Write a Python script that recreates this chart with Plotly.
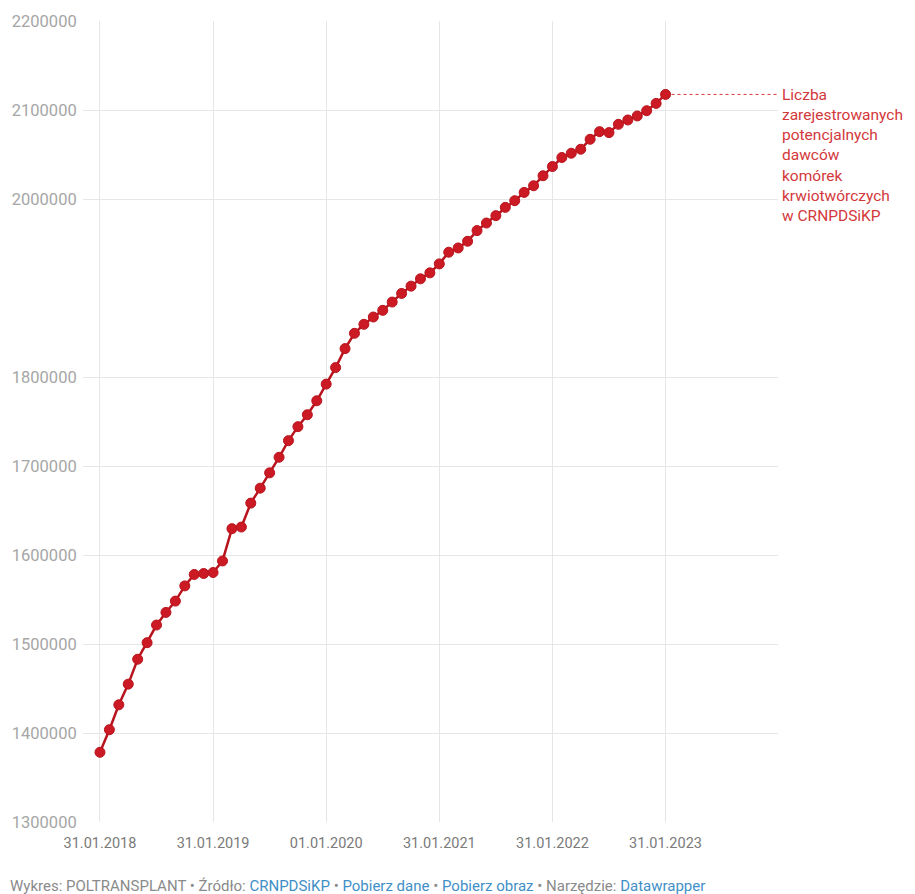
import plotly.graph_objects as go

# Registered potential haematopoietic stem cell donors, monthly (end of month)
donors = [
    1378300, 1403700, 1431700, 1454900, 1482900, 1501500, 1521300, 1535500,
    1548200, 1565300, 1578100, 1579200, 1580300, 1593300, 1629600, 1631400,
    1658300, 1675100, 1692300, 1709800, 1728500, 1744200, 1757600, 1773300,
    1792000, 1810600, 1831900, 1849100, 1859200, 1867400, 1874900, 1884200,
    1893900, 1902100, 1910300, 1917000, 1927100, 1940200, 1945000, 1952500,
    1964500, 1973000, 1981300, 1990600, 1998100, 2007400, 2014900, 2026100,
    2036500, 2046600, 2051400, 2055900, 2067100, 2075700, 2074600, 2083900,
    2088800, 2093300, 2099200, 2107400, 2117500,
]
month_index = list(range(len(donors)))

x_tick_pos = [0, 12, 24, 36, 48, 60]
x_tick_labels = ["31.01.2018", "31.01.2019", "01.01.2020",
                 "31.01.2021", "31.01.2022", "31.01.2023"]
y_ticks = [1300000, 1400000, 1500000, 1600000, 1700000, 1800000,
           2000000, 2100000, 2200000]

series_label = ("Liczba<br>zarejestrowanych<br>potencjalnych<br>dawców<br>"
                "komórek<br>krwiotwórczych<br>w CRNPDSiKP")

RED = "#cc1a24"
LABEL_RED = "#d3383b"
GRID = "#e6e6e6"

fig = go.Figure()
fig.add_trace(go.Scatter(
    x=month_index, y=donors,
    mode="lines+markers",
    line=dict(color="#b8141d", width=2.5),
    marker=dict(color=RED, size=10, line=dict(color="#b8141d", width=1)),
    hoverinfo="skip",
    showlegend=False,
))

# dotted leader from the last point to the series label
fig.add_shape(type="line", xref="x", yref="y",
              x0=month_index[-1], x1=71.8, y0=donors[-1], y1=donors[-1],
              line=dict(color=LABEL_RED, width=1, dash="dot"), layer="below")

fig.add_annotation(xref="paper", yref="y", x=1.003, y=donors[-1],
                   xanchor="left", yanchor="top", yshift=10,
                   text=series_label, showarrow=False, align="left",
                   font=dict(family="Roboto", size=15.5, color=LABEL_RED))

link = "color:#3f8fc7"
footer = ("Wykres: POLTRANSPLANT • Źródło: "
          f"<span style='{link}'>CRNPDSiKP</span> • "
          f"<span style='{link}'>Pobierz dane</span> • "
          f"<span style='{link}'>Pobierz obraz</span> • Narzędzie: "
          f"<span style='{link}'>Datawrapper</span>")
fig.add_annotation(xref="paper", yref="paper", x=-0.1074, y=-0.0798,
                   xanchor="left", yanchor="middle", text=footer,
                   showarrow=False, align="left",
                   font=dict(family="Roboto", size=15, color="#8a8a8a"))

fig.update_xaxes(
    range=[-1.8, 71.93],
    tickmode="array", tickvals=x_tick_pos, ticktext=x_tick_labels,
    showgrid=True, gridcolor=GRID, gridwidth=1, zeroline=False,
    showline=False, ticks="outside", ticklen=8, tickcolor="rgba(0,0,0,0)",
    tickfont=dict(family="Roboto", size=14.5, color="#7a7a7a"),
)
fig.update_yaxes(
    range=[1300000, 2200000],
    tickmode="array", tickvals=y_ticks, tickformat="d",
    showgrid=True, gridcolor=GRID, gridwidth=1, zeroline=False,
    showline=False, ticks="outside", ticklen=2, tickcolor="rgba(0,0,0,0)",
    tickfont=dict(family="Roboto", size=16.5, color="#a6a6a6"),
)

fig.update_layout(
    width=915, height=894,
    margin=dict(l=80, r=137, t=20, b=72),
    paper_bgcolor="white", plot_bgcolor="white",
    font=dict(family="Roboto"),
)

fig.write_html("out.html")
